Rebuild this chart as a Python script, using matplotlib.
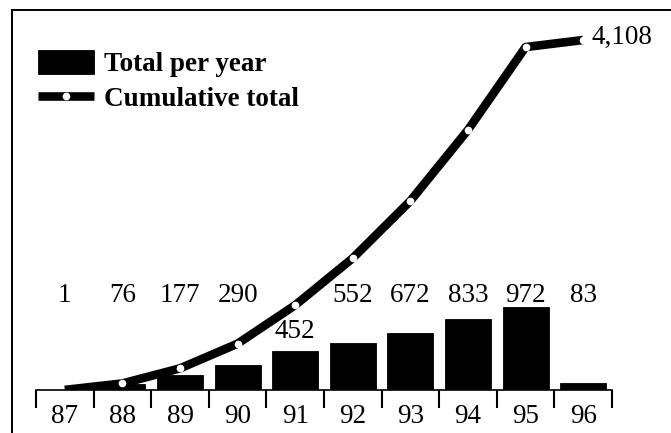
import numpy as np
import matplotlib.pyplot as plt
from matplotlib.lines import Line2D

years = ['87', '88', '89', '90', '91', '92', '93', '94', '95', '96']
per_year = [1, 76, 177, 290, 452, 552, 672, 833, 972, 83]
cumulative = np.cumsum(per_year)

plt.rcParams['font.family'] = 'Liberation Serif'

W, H = 671, 433
fig = plt.figure(figsize=(W / 100, H / 100), dpi=100)
ax = fig.add_axes([36 / W, (H - 390) / H, 576 / W, 383.4 / H])

x = np.arange(len(years))
bars = ax.bar(x, per_year, width=0.8, color='black', edgecolor='black',
              linewidth=0.6, label='Total per year', zorder=2)
line, = ax.plot(x, cumulative, color='black', lw=6.2, marker='o', markersize=4.5,
                markerfacecolor='white', markeredgecolor='white',
                markevery=list(range(1, len(x))), solid_capstyle='butt',
                solid_joinstyle='round', label='Cumulative total', zorder=3)

# yearly counts sit on one row; the 91 label drops below the curve
label_y = [1033] * len(years)
label_y[4] = 610
for xi, v, ly in zip(x, per_year, label_y):
    ax.text(xi, ly, str(v), ha='center', va='baseline', fontsize=19.5, zorder=4)

ax.annotate(f'{cumulative[-1]:,}', (x[-1], cumulative[-1]), xytext=(6, -3),
            textcoords='offset points', ha='left', va='baseline', fontsize=19.5,
            annotation_clip=False)

ax.set_xlim(-0.5, len(years) - 0.5)
ax.set_ylim(0, 4500)
ax.set_yticks([])
ax.set_xticks(x, years)
ax.set_xticks(np.arange(-0.5, len(years), 1), minor=True)
ax.tick_params(axis='x', which='major', length=0, pad=10, labelsize=19.5)
ax.tick_params(axis='x', which='minor', length=13, width=1.5, direction='out')
for side in ['top', 'left', 'right']:
    ax.spines[side].set_visible(False)
ax.spines['bottom'].set_linewidth(1.2)

ax.legend(handles=[bars, line], loc='upper left',
          bbox_to_anchor=(38 / W, 1 - 50 / H), bbox_transform=fig.transFigure,
          frameon=False, prop={'family': 'Liberation Serif', 'weight': 'bold', 'size': 19.5},
          handlelength=2.05, handleheight=1.0, handletextpad=0.4,
          labelspacing=0.28, borderpad=0, borderaxespad=0)

# outer frame, open at the bottom and right
fig.add_artist(Line2D([12 / W, 12 / W], [0, 1 - 10 / H], color='black', lw=1.4))
fig.add_artist(Line2D([12 / W, 1], [1 - 10 / H, 1 - 10 / H], color='black', lw=1.4))

fig.savefig('out.png', dpi=100)
